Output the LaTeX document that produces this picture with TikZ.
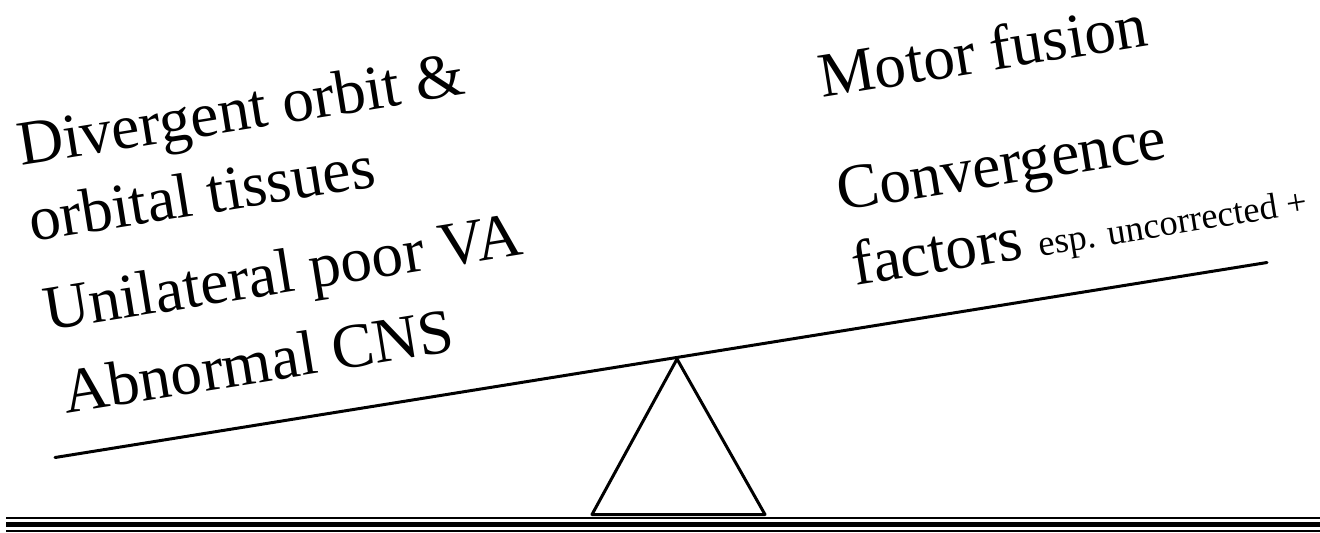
\documentclass[tikz,border=0pt]{standalone}
\usepackage{fontspec}
\setmainfont{Liberation Serif}
\usepackage{tikz}
\usetikzlibrary{positioning}

\tikzset{
	txt/.style={anchor=base west, inner sep=0pt, rotate=9.15, font=\fontsize{31.6}{36}\selectfont},
	beam/.style={line width=1.5pt, line cap=round},
}

\begin{document}
\begin{tikzpicture}[x=0.5pt, y=-0.5pt]
	\useasboundingbox (0,0) rectangle (1320,532);

	% ground
	\draw[line width=1pt] (6,517.6) -- (1320,517.6);
	\draw[line width=2.7pt] (6,524.3) -- (1320,524.3);
	\draw[line width=1pt] (6,530.7) -- (1320,530.7);

	% fulcrum and beam
	\coordinate (apex) at (677,359);
	\coordinate (baseL) at (592,514.5);
	\coordinate (baseR) at (765,514.5);
	\coordinate (beamL) at (55,457.5);
	\coordinate (beamR) at (1267,262.5);
	\draw[beam, line join=round] (baseL) -- (apex) -- (baseR) -- cycle;
	\draw[beam] (beamL) -- (beamR);

	% left side
	\node[txt] (div) at (21,166) {Divergent orbit \&};
	\node[txt] (orb) at (32,242) {orbital tissues};
	\node[txt] (uni) at (47,331) {Unilateral poor VA};
	\node[txt] (cns) at (66,414) {Abnormal CNS};

	% right side
	\node[txt] (mot) at (822,98) {Motor fusion};
	\node[txt] (con) at (840,211) {Convergence};
	\node[txt] (fac) at (855,286) {factors {\fontsize{18.2}{20}\selectfont esp. uncorrected +}};
\end{tikzpicture}
\end{document}
